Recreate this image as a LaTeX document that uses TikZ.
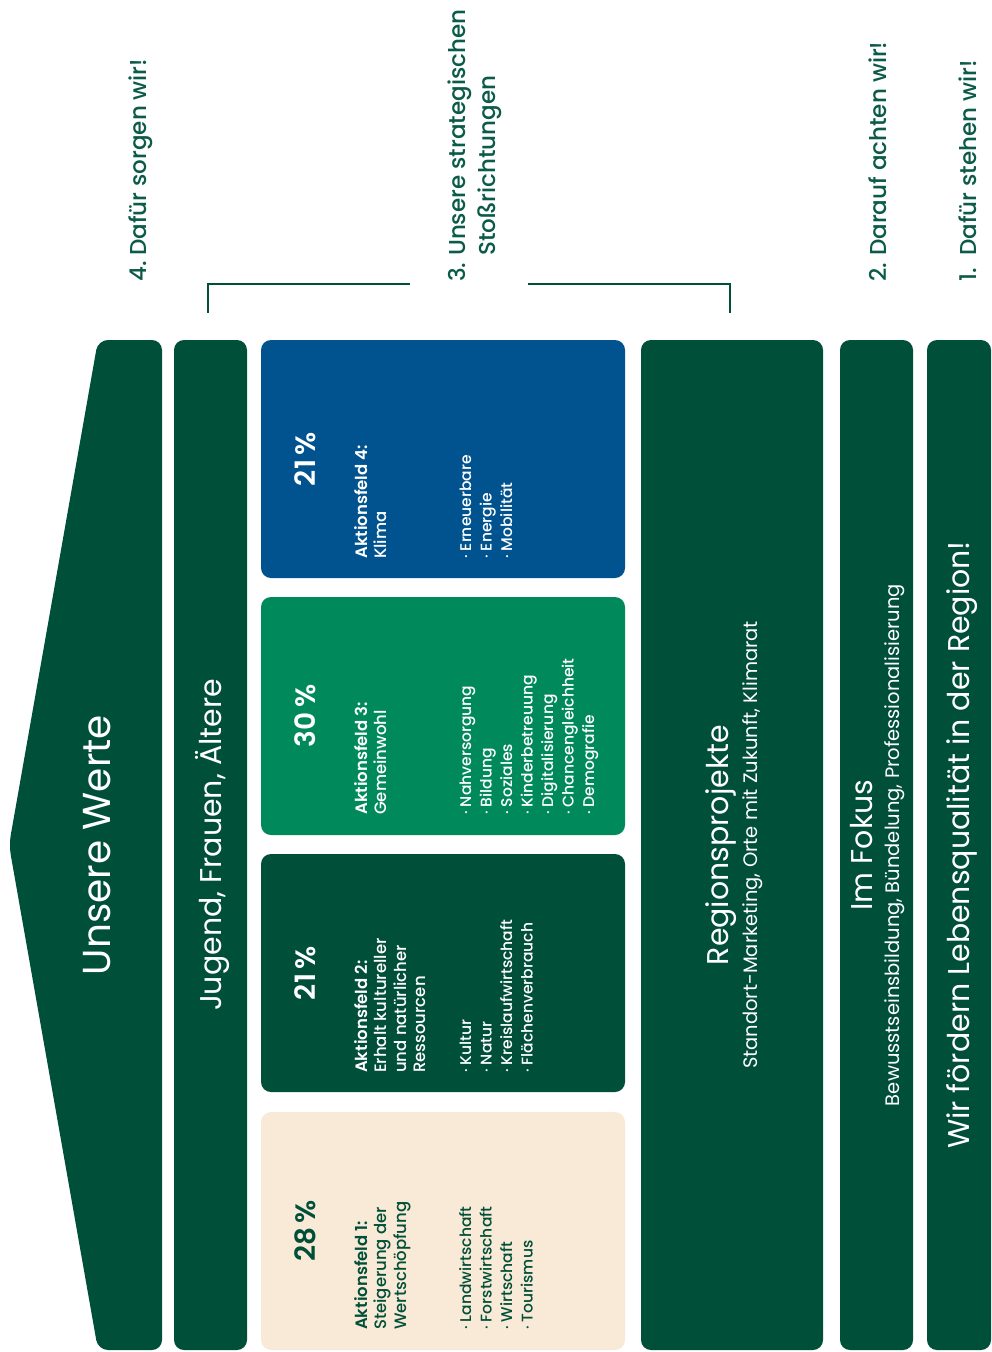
\documentclass[tikz,border=0pt]{standalone}
\usepackage{fontspec}
\setmainfont{Poppins}
\newfontfamily\medfont{Poppins Medium}
\newfontfamily\semifont{Poppins SemiBold}
\usetikzlibrary{positioning}
\definecolor{lagdark}{HTML}{004F39}
\definecolor{laggreen}{HTML}{008A5C}
\definecolor{lagblue}{HTML}{00538E}
\definecolor{lagbeige}{HTML}{F9EAD7}
\definecolor{lagtext}{HTML}{0B5B48}
\newcommand{\steplist}[2]{\begin{tabular}[t]{@{}p{26pt}@{}l@{}}#1 & #2\end{tabular}}
\newcommand{\fieldlines}[1]{\begin{tabular}[t]{@{}l@{}}#1\end{tabular}}
\newcommand{\itm}{\raisebox{2.2pt}{\fontsize{8}{8}\selectfont•}\ }
\begin{document}
\begin{tikzpicture}[x=1pt,y=-1pt,
  band/.style={fill=lagdark, rounded corners=10pt, inner sep=0pt, minimum height=1010pt},
  fieldbox/.style={rounded corners=10pt, inner sep=0pt, minimum width=364pt, minimum height=238pt},
  bigtext/.style={rotate=90, text=white, inner sep=0pt, font=\fontsize{30}{34}\selectfont},
  smalltext/.style={rotate=90, text=white, inner sep=0pt, font=\fontsize{19.5}{22}\selectfont},
  steplabel/.style={rotate=90, anchor=base west, inner sep=0pt, text=lagtext, font=\medfont\fontsize{23}{30}\selectfont},
  pctlabel/.style={rotate=90, anchor=base, inner sep=0pt, font=\semifont\fontsize{28}{30}\selectfont},
  fieldhead/.style={rotate=90, anchor=base west, inner sep=0pt, font=\medfont\fontsize{16.5}{19.5}\selectfont},
  fieldlist/.style={rotate=90, anchor=base west, inner sep=0pt, font=\medfont\fontsize{15.5}{20.5}\selectfont},
]
\useasboundingbox (0,0) rectangle (992,1352);

\node[steplabel] (s4) at (146,282) {\steplist{4.}{Dafür sorgen wir!}};
\node[steplabel] (s3) at (465,282) {\steplist{3.}{Unsere strategischen\\ & Stoßrichtungen}};
\node[steplabel] (s2) at (886,282) {\steplist{2.}{Darauf achten wir!}};
\node[steplabel] (s1) at (976,282) {\steplist{1.}{Dafür stehen wir!}};

\coordinate (b1) at (208,313);
\coordinate (b2) at (410,284);
\coordinate (b3) at (528,284);
\coordinate (b4) at (730,313);
\draw[lagdark, line width=1.2pt] (b1) |- (b2);
\draw[lagdark, line width=1.2pt] (b3) -| (b4);

\fill[lagdark, rounded corners=10pt] (162,340) -- (98,340) -- (9,845) -- (98,1350) -- (162,1350) -- cycle;
\node[bigtext, font=\fontsize{39}{44}\selectfont] (werte) at (97,845) {Unsere Werte};

\node[band, minimum width=73pt] (jfa) at (210.5,845) {};
\node[bigtext] (jfat) at (212,845) {Jugend, Frauen, Ältere};

\node[fieldbox, fill=lagblue] (af4) at (443,459) {};
\node[fieldbox, fill=laggreen] (af3) at (443,716) {};
\node[fieldbox, fill=lagdark] (af2) at (443,973) {};
\node[fieldbox, fill=lagbeige] (af1) at (443,1231) {};

\node[pctlabel, text=lagdark] (p1) at (315,1231) {28\,\%};
\node[fieldhead, text=lagdark] (h1) at (367,1330) {\fieldlines{\semifont Aktionsfeld 1:\\ Steigerung der\\ Wertschöpfung}};
\node[fieldlist, text=lagdark] (l1) at (471,1330) {\fieldlines{\itm Landwirtschaft\\ \itm Forstwirtschaft\\ \itm Wirtschaft\\ \itm Tourismus}};

\node[pctlabel, text=white] (p2) at (315,973) {21\,\%};
\node[fieldhead, text=white] (h2) at (367,1073) {\fieldlines{\semifont Aktionsfeld 2:\\ Erhalt kultureller\\ und natürlicher\\ Ressourcen}};
\node[fieldlist, text=white] (l2) at (471,1073) {\fieldlines{\itm Kultur\\ \itm Natur\\ \itm Kreislaufwirtschaft\\ \itm Flächenverbrauch}};

\node[pctlabel, text=white] (p3) at (315,716) {30\,\%};
\node[fieldhead, text=white] (h3) at (367,815) {\fieldlines{\semifont Aktionsfeld 3:\\ Gemeinwohl}};
\node[fieldlist, text=white] (l3) at (471,815) {\fieldlines{\itm Nahversorgung\\ \itm Bildung\\ \itm Soziales\\ \itm Kinderbetreuung\\ \itm Digitalisierung\\ \itm Chancengleichheit\\ \itm Demografie}};

\node[pctlabel, text=white] (p4) at (315,459) {21\,\%};
\node[fieldhead, text=white] (h4) at (367,559) {\fieldlines{\semifont Aktionsfeld 4:\\ Klima}};
\node[fieldlist, text=white] (l4) at (471,559) {\fieldlines{\itm Erneuerbare\\ \itm Energie\\ \itm Mobilität}};

\node[band, minimum width=182pt] (rp) at (732,845) {};
\node[bigtext] (rpt) at (721,845) {Regionsprojekte};
\node[smalltext] (rps) at (753,845) {Standort-Marketing, Orte mit Zukunft, Klimarat};

\node[band, minimum width=73pt] (fok) at (876.5,845) {};
\node[bigtext] (fokt) at (862,845) {Im Fokus};
\node[smalltext] (foks) at (895,845) {Bewusstseinsbildung, Bündelung, Professionalisierung};

\node[band, minimum width=64pt] (lq) at (959,845) {};
\node[bigtext] (lqt) at (962,845) {Wir fördern Lebensqualität in der Region!};
\end{tikzpicture}
\end{document}
